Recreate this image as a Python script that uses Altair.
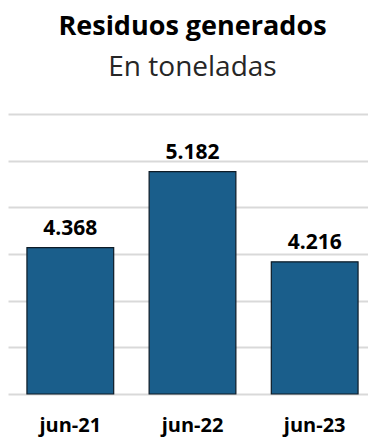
import altair as alt
import pandas as pd

categories = ["jun-21", "jun-22", "jun-23"]
values = [4368, 5182, 4216]
labels = ["4.368", "5.182", "4.216"]
grid_values = [2800, 3300, 3800, 4300, 4800, 5300, 5800]
axis_min = grid_values[0]

df = pd.DataFrame({"mes": categories, "valor": values, "etiqueta": labels})

FONT = "Open Sans"

base = alt.Chart(df).encode(
    x=alt.X(
        "mes:N",
        sort=categories,
        title=None,
        scale=alt.Scale(paddingInner=0.29, paddingOuter=0.155, range=[0, 369]),
        axis=alt.Axis(
            labelAngle=0,
            labelFont=FONT,
            labelFontSize=20,
            labelFontWeight="bold",
            labelColor="#000000",
            labelBaseline="alphabetic",
            labelPadding=37,
            domain=False,
            ticks=False,
            grid=False,
        ),
    ),
    y=alt.Y(
        "valor:Q",
        title=None,
        scale=alt.Scale(domain=[axis_min, grid_values[-1]], zero=False, nice=False),
        axis=alt.Axis(
            values=grid_values,
            labels=False,
            domain=False,
            ticks=False,
            grid=True,
            gridColor="#D9D9D9",
            gridWidth=1.8,
        ),
    ),
)

bars = base.mark_bar(color="#1A5E8B", stroke="#0d1b26", strokeWidth=1.2).encode(
    y2=alt.datum(axis_min)
)

text = base.mark_text(
    baseline="alphabetic",
    dy=-13,
    font=FONT,
    fontSize=21,
    fontWeight="bold",
    color="#000000",
).encode(text="etiqueta:N")

chart = (
    (bars + text)
    .properties(
        width=360,
        height=280,
        autosize=alt.AutoSizeParams(type="none"),
        padding={"left": 0, "top": 106, "right": 0, "bottom": 44},
        title=alt.TitleParams(
            text="Residuos generados",
            subtitle="En toneladas",
            anchor="middle",
            frame="bounds",
            font=FONT,
            fontSize=27,
            fontWeight="bold",
            color="#000000",
            subtitleFont=FONT,
            subtitleFontSize=28,
            subtitleColor="#262626",
            subtitlePadding=13,
            offset=31,
        ),
    )
    .configure_view(stroke=None)
)

chart.save("out.html", embed_options={"renderer": "svg", "actions": False})
